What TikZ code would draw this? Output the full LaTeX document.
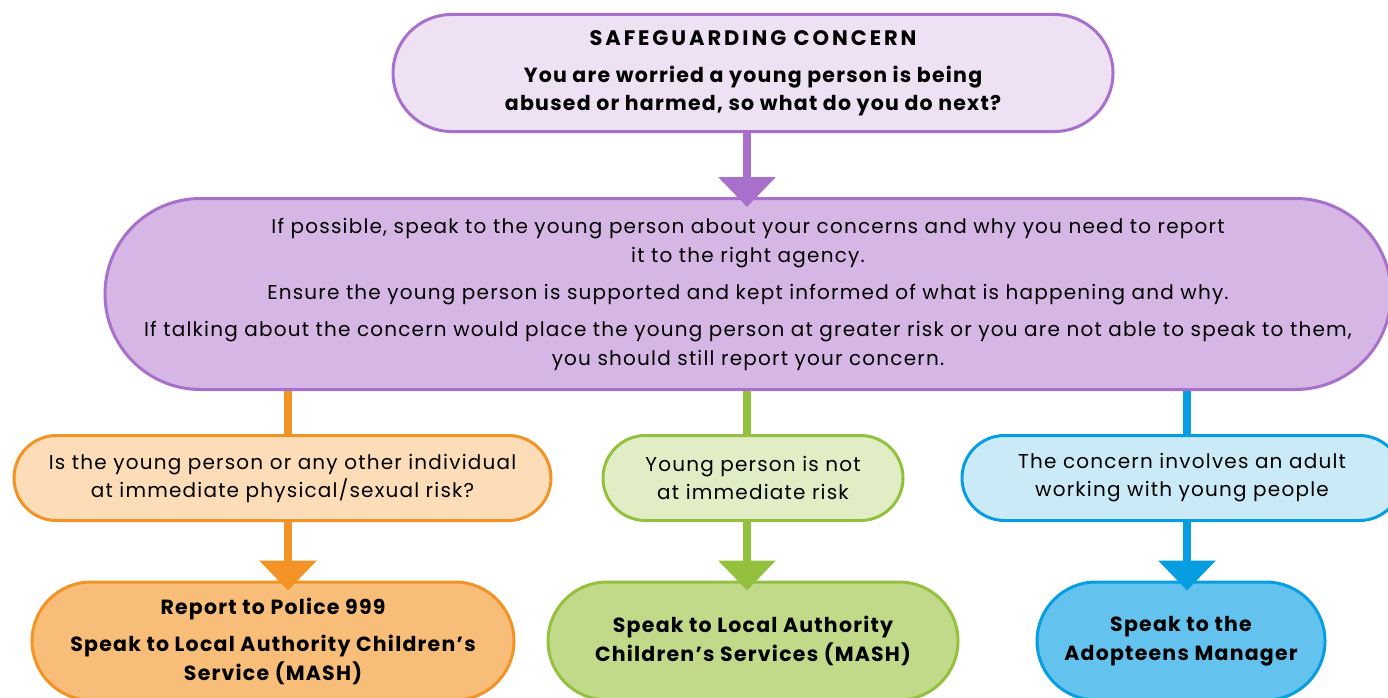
\documentclass[tikz,border=0pt]{standalone}
\usepackage{fontspec}
\setmainfont{Poppins}[LetterSpace=6]
\usepackage{xcolor}
\usetikzlibrary{arrows.meta}

\definecolor{purpleline}{HTML}{A970CB}
\definecolor{purplelight}{HTML}{EFE1F4}
\definecolor{purplemid}{HTML}{D6B6E4}
\definecolor{orangeline}{HTML}{F39325}
\definecolor{orangelight}{HTML}{FCDDB8}
\definecolor{orangemid}{HTML}{F8BD78}
\definecolor{greenline}{HTML}{94C13D}
\definecolor{greenlight}{HTML}{E0EDC5}
\definecolor{greenmid}{HTML}{C0DA8A}
\definecolor{blueline}{HTML}{069EE0}
\definecolor{bluelight}{HTML}{CBEAF8}
\definecolor{bluemid}{HTML}{63C3EE}

\begin{document}
\begin{tikzpicture} [
    x=1pt, y=-1pt,
    block/.style    = { rectangle, line width=3pt, align=center,
                        inner sep=0pt, text=black },
    question/.style = { block, minimum height=85pt, rounded corners=42.5pt,
                        font=\fontsize{20}{28}\selectfont },
    action/.style   = { block, minimum height=118pt, rounded corners=59pt,
                        font=\bfseries\fontsize{20.5}{29}\selectfont },
    line/.style     = { line width=8pt },
    flow/.style     = { line, -{Triangle[width=56pt,length=30pt]},
                        shorten >=-10pt },
  ]
  \clip (0,0) rectangle (1388,698);

  % top and main boxes
  \node [block, draw=purpleline, fill=purplelight, minimum width=720pt,
         minimum height=117pt, rounded corners=58.5pt,
         font=\bfseries\fontsize{20.5}{28}\selectfont] (concern) at (753,73)
        {{\addfontfeature{LetterSpace=14}\fontsize{21}{28}\selectfont SAFEGUARDING CONCERN}\\[9pt]
         You are worried a young person is being\\
         abused or harmed, so what do you do next?};
  \node [block, draw=purpleline, fill=purplemid, minimum width=1286pt,
         minimum height=191pt, rounded corners=95.5pt,
         font=\fontsize{20}{29}\selectfont] (speak) at (748,294)
        {If possible, speak to the young person about your concerns and why you need to report\\
         it to the right agency.\\[8pt]
         Ensure the young person is supported and kept informed of what is happening and why.\\[8pt]
         If talking about the concern would place the young person at greater risk or you are not able to speak to them,\\
         you should still report your concern.};

  % three branches
  \node [question, draw=orangeline, fill=orangelight, minimum width=537pt]
        (risk) at (282.5,478)
        {Is the young person or any other individual\\
         at immediate physical/sexual risk?};
  \node [question, draw=greenline, fill=greenlight, minimum width=300pt]
        (norisk) at (753,478)
        {Young person is not\\ at immediate risk};
  \node [question, draw=blueline, fill=bluelight, minimum width=440pt]
        (adult) at (1182,478)
        {The concern involves an adult\\ working with young people};

  \node [action, draw=orangeline, fill=orangemid, minimum width=482pt]
        (police) at (273,641)
        {Report to Police 999\\[8pt]
         Speak to Local Authority Children’s\\ Service (MASH)};
  \node [action, draw=greenline, fill=greenmid, minimum width=410pt]
        (mash) at (753,641)
        {Speak to Local Authority\\ Children’s Services (MASH)};
  \node [action, draw=blueline, fill=bluemid, minimum width=288pt]
        (manager) at (1181,641)
        {Speak to the\\ Adopteens Manager};

  \coordinate (leftx)  at (288,0);
  \coordinate (midx)   at (747,0);
  \coordinate (rightx) at (1187,0);

  % connect all nodes defined above
  \draw [flow, purpleline] (concern.south -| midx) -- (speak.north -| midx);
  \draw [line, orangeline] (speak.south -| leftx) -- (risk.north -| leftx);
  \draw [line, greenline]  (speak.south -| midx) -- (norisk.north -| midx);
  \draw [line, blueline]   (speak.south -| rightx) -- (adult.north -| rightx);
  \draw [flow, orangeline] (risk.south -| leftx) -- (police.north -| leftx);
  \draw [flow, greenline]  (norisk.south -| midx) -- (mash.north -| midx);
  \draw [flow, blueline]   (adult.south -| rightx) -- (manager.north -| rightx);
\end{tikzpicture}
\end{document}
